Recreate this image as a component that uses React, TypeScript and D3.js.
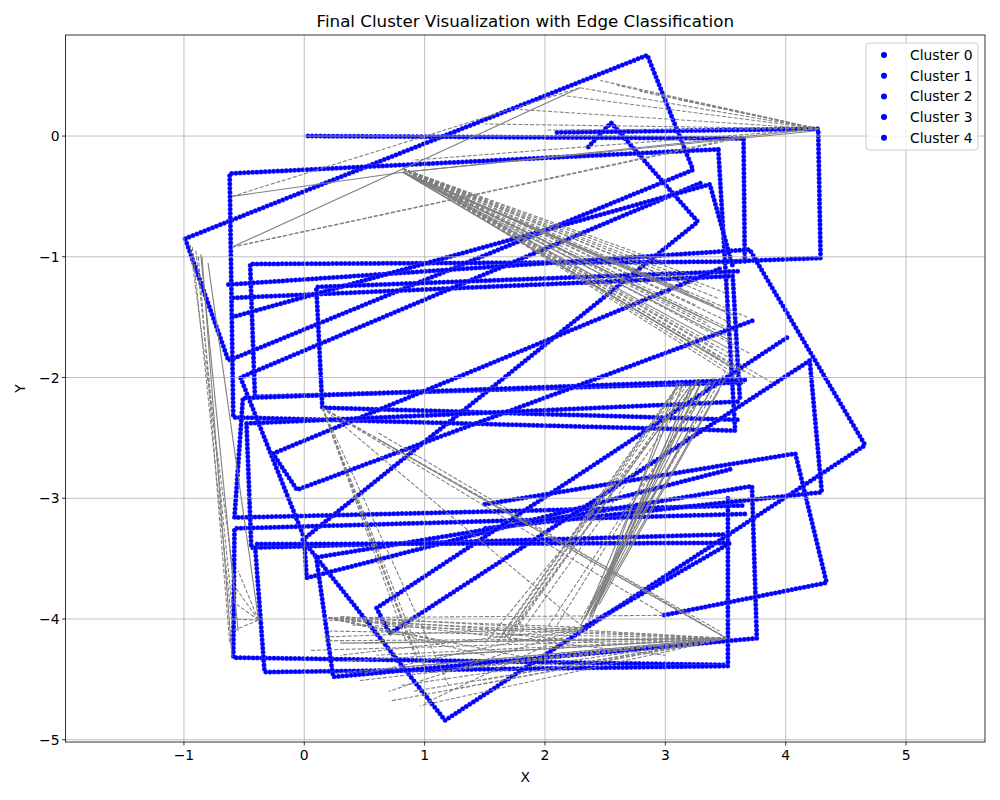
import React, { FC, useMemo } from "react";
import * as d3 from "d3";

const width = 1000;
const height = 800;
const marginLeft = 65.5;
const marginRight = 15;
const marginTop = 35;
const marginBottom = 58;

const xDomain = [-1.984, 5.656];
const yDomain = [-5.019, 0.837];
const xTicks = [-1, 0, 1, 2, 3, 4, 5];
const yTicks = [0, -1, -2, -3, -4, -5];
const clusterNames = ["Cluster 0", "Cluster 1", "Cluster 2", "Cluster 3", "Cluster 4"];

// blue point chains, one list per traced outline
const cluster0 = [
    [[-0.99, -0.85], [2.85, 0.67], [3.23, -0.28], [-0.63, -1.86], [-0.99, -0.85]],
    [[2.36, -0.09], [2.55, 0.11], [3.27, -0.71], [-0.02, -3.35]],
    [[0.03, 0.0], [3.65, -0.02], [3.66, -1.04]],
    [[2.1, 0.03], [4.27, 0.06], [4.29, -1.01], [3.5, -1.04]],
];
const cluster1 = [
    [[3.44, -0.11], [-0.62, -0.31], [-0.59, -2.33], [3.58, -2.44], [3.44, -0.11]],
    [[3.62, -1.04], [-0.45, -1.06], [-0.41, -2.16], [3.66, -2.04]],
    [[-0.63, -1.23], [3.7, -0.94], [4.66, -2.56], [1.17, -4.84], [-0.01, -3.35]],
    [[-0.59, -1.34], [3.56, -1.16], [3.62, -2.19]],
];
const cluster2 = [
    [[3.29, -0.39], [-0.53, -2.0], [0.0, -3.33]],
    [[-0.6, -1.5], [3.37, -0.4], [3.56, -1.08]],
    [[3.66, -2.02], [-0.51, -2.17], [-0.58, -3.16], [3.66, -3.06]],
    [[3.6, -1.12], [0.1, -1.25], [0.15, -2.25], [3.6, -2.35]],
    [[3.45, -1.1], [-0.26, -2.63], [-0.06, -2.93], [3.75, -1.52]],
];
const cluster3 = [
    [[3.6, -2.2], [-0.48, -2.38], [-0.44, -3.41], [3.5, -3.3]],
    [[3.66, -3.13], [-0.58, -3.25], [-0.59, -4.32], [3.5, -4.38]],
    [[3.52, -3.0], [3.52, -4.39], [-0.33, -4.44], [-0.41, -3.38]],
    [[0.0, -3.35], [0.02, -3.66], [3.54, -2.76]],
];
const cluster4 = [
    [[4.2, -1.86], [4.3, -2.95], [1.5, -3.25]],
    [[0.1, -3.49], [0.24, -4.48], [3.76, -4.16], [3.72, -2.9], [0.1, -3.49]],
    [[4.01, -1.67], [0.6, -3.91], [0.71, -4.12], [4.2, -1.86]],
    [[1.5, -3.05], [4.08, -2.63], [4.34, -3.7], [2.98, -3.97]],
    [[2.32, -4.07], [3.54, -3.37], [-0.41, -3.38]],
];
const clusters = [cluster0, cluster1, cluster2, cluster3, cluster4];

// edges fanning out of one shared point
const fans = [
    {
        hub: [0.82, -0.27], dashed: true, ends: [
            [3.55, -1.55], [3.6, -1.7], [3.62, -1.85], [3.5, -1.45], [3.3, -1.25], [3.65, -1.95],
            [3.45, -1.35], [3.58, -1.62], [3.2, -1.15], [3.4, -1.75], [3.66, -2.05], [3.55, -1.92],
            [3.0, -1.05], [3.63, -2.0], [3.75, -2.0], [3.9, -2.05], [3.7, -1.8], [3.5, -1.3],
            [3.35, -1.55], [3.1, -1.2], [3.68, -1.5], [3.25, -1.4],
        ],
    },
    {
        hub: [0.82, -0.3], dashed: false, ends: [
            [3.5, -1.6], [3.6, -1.8], [3.4, -1.4], [3.62, -1.95], [3.3, -1.5], [3.55, -1.7],
            [3.2, -1.3], [4.27, 0.06], [4.22, 0.04], [-0.6, -0.5], [3.45, -1.85], [3.6, -1.5],
        ],
    },
    {
        hub: [4.27, 0.06], dashed: true, ends: [
            [2.29, 0.4], [2.12, 0.34], [2.46, 0.46], [2.79, 0.37], [1.79, 0.22], [3.12, 0.3],
            [2.6, 0.42], [1.5, 0.1], [2.0, 0.05], [0.9, -0.2],
        ],
    },
    {
        hub: [-0.38, -4.01], dashed: true, ends: [
            [-0.6, -3.7], [-0.6, -3.85], [-0.6, -4.0], [-0.6, -4.1], [-0.55, -3.6],
        ],
    },
    {
        hub: [0.15, -2.25], dashed: true, ends: [
            [0.9, -4.25], [0.95, -4.35], [1.0, -4.4], [0.85, -4.2], [0.92, -4.3], [3.51, -4.16],
            [3.0, -3.97], [3.45, -4.1], [2.32, -4.07], [1.2, -4.55],
        ],
    },
    {
        hub: [3.51, -4.16], dashed: true, ends: [
            [0.21, -4.01], [0.17, -4.18], [0.3, -4.35], [0.46, -4.51], [0.71, -4.68], [0.96, -4.72],
            [1.21, -4.59], [1.46, -4.51], [0.21, -4.1], [0.05, -4.26], [0.6, -4.3], [0.4, -4.05],
            [1.0, -4.45], [1.7, -4.35], [0.3, -3.98], [0.63, -2.52], [0.6, -2.45], [0.9, -4.6],
            [0.25, -4.45], [1.3, -4.4], [0.5, -4.2], [0.8, -4.55],
        ],
    },
    {
        hub: [3.51, -4.16], dashed: false, ends: [[0.3, -4.2], [0.8, -4.4], [1.1, -4.3]],
    },
    {
        hub: [0.2, -3.99], dashed: true, ends: [
            [2.32, -4.07], [2.98, -3.97], [1.5, -4.3], [2.0, -4.35], [1.8, -4.1], [3.0, -4.3],
            [2.5, -4.2], [1.2, -4.2],
        ],
    },
    {
        hub: [2.32, -4.07], dashed: true, ends: [[0.3, -4.3], [0.5, -4.45], [0.15, -4.15], [0.7, -4.6], [1.0, -4.7]],
    },
];

// single edges [x1, y1, x2, y2]
const dashedEdges = [
    [-0.6, -0.5, 2.29, 0.4], [-0.6, -0.92, 3.65, 0.0], [-0.6, -0.92, 3.6, -0.02],
    [-0.93, -0.92, -0.6, -4.05], [-0.9, -0.95, -0.6, -3.9], [-0.88, -1.0, -0.62, -4.2],
    [-0.95, -0.9, -0.58, -3.7],
    [1.67, -4.15, 3.15, -2.05], [1.7, -4.17, 3.18, -2.06], [1.64, -4.13, 3.12, -2.04],
    [1.72, -4.12, 3.22, -2.05], [1.6, -4.2, 3.1, -2.08], [1.75, -4.18, 3.25, -2.07],
    [1.66, -4.16, 3.14, -2.03], [1.69, -4.14, 3.2, -2.08],
    [2.0, -4.1, 3.4, -2.0], [2.3, -4.0, 3.5, -1.95], [1.5, -4.2, 3.3, -2.0], [2.1, -4.05, 3.35, -2.05],
];
const solidEdges = [
    [-0.6, -0.92, 2.29, 0.4],
    [-0.85, -1.0, -0.6, -4.32], [-0.8, -1.05, -0.38, -4.01], [-0.86, -0.98, -0.55, -4.1],
    [2.35, -3.95, 3.15, -2.05], [2.37, -3.97, 3.22, -2.06], [2.4, -3.93, 3.3, -2.04],
    [2.33, -4.0, 3.36, -2.03], [2.38, -3.96, 3.42, -2.02], [2.42, -3.9, 3.5, -2.0],
    [2.36, -4.02, 3.2, -2.1], [2.3, -4.05, 3.28, -2.07], [2.45, -3.88, 3.45, -2.1],
    [2.39, -3.99, 3.1, -2.04], [2.34, -3.98, 3.38, -2.1], [2.41, -3.94, 3.26, -2.02],
];

const fmt = (v: number) => (v < 0 ? `\u2212${Math.abs(v)}` : `${v}`);
const font = "DejaVu Sans, sans-serif";

const App: FC = () => {
    const x = useMemo(() => d3.scaleLinear(xDomain, [marginLeft, width - marginRight]), []);
    const y = useMemo(() => d3.scaleLinear(yDomain, [height - marginBottom, marginTop]), []);
    const line = useMemo(
        () => d3.line<number[]>().x((d) => x(d[0])).y((d) => y(d[1])),
        [x, y]
    );

    const edges = useMemo(() => {
        const out: { e: number[]; dashed: boolean }[] = [];
        fans.forEach((f) => f.ends.forEach((e) => out.push({ e: [f.hub[0], f.hub[1], e[0], e[1]], dashed: f.dashed })));
        dashedEdges.forEach((e) => out.push({ e, dashed: true }));
        solidEdges.forEach((e) => out.push({ e, dashed: false }));
        return out;
    }, []);

    const x0 = marginLeft;
    const x1 = width - marginRight;
    const y0 = marginTop;
    const y1 = height - marginBottom;

    return (
        <svg width={width} height={height} style={{ position: "absolute", top: 0, left: 0, background: "#fff" }}>
            <defs>
                <clipPath id="plot">
                    <rect x={x0} y={y0} width={x1 - x0} height={y1 - y0} />
                </clipPath>
            </defs>
            <rect width={width} height={height} fill="#fff" />
            <g clipPath="url(#plot)">
                {clusters.map((c, ci) =>
                    c.map((p, pi) => (
                        <g key={`${ci}-${pi}`}>
                            <path d={line(p) || ""} fill="none" stroke="#5050ff" strokeWidth={5}
                                strokeLinecap="round" strokeDasharray="0 4.2" />
                            <path d={line(p) || ""} fill="none" stroke="#0000ff" strokeWidth={4.2}
                                strokeLinecap="round" strokeDasharray="0 4.2" />
                        </g>
                    ))
                )}
            </g>
            <g stroke="#b0b0b0" strokeWidth={0.8}>
                {xTicks.map((t) => (
                    <line key={`gx${t}`} x1={x(t)} x2={x(t)} y1={y0} y2={y1} />
                ))}
                {yTicks.map((t) => (
                    <line key={`gy${t}`} x1={x0} x2={x1} y1={y(t)} y2={y(t)} />
                ))}
            </g>
            <g clipPath="url(#plot)" fill="none" stroke="#808080" strokeWidth={1.1}>
                {edges.map((d, i) => (
                    <line key={i} x1={x(d.e[0])} y1={y(d.e[1])} x2={x(d.e[2])} y2={y(d.e[3])}
                        strokeDasharray={d.dashed ? "4 1.8" : undefined} />
                ))}
            </g>
            <rect x={x0} y={y0} width={x1 - x0} height={y1 - y0} fill="none" stroke="#000" strokeWidth={0.8} />
            <g fontFamily={font} fontSize={13.9} fill="#000">
                {xTicks.map((t) => (
                    <g key={`tx${t}`}>
                        <line x1={x(t)} x2={x(t)} y1={y1} y2={y1 + 3.5} stroke="#000" strokeWidth={0.8} />
                        <text x={x(t)} y={y1 + 18} textAnchor="middle">{fmt(t)}</text>
                    </g>
                ))}
                {yTicks.map((t) => (
                    <g key={`ty${t}`}>
                        <line x1={x0 - 3.5} x2={x0} y1={y(t)} y2={y(t)} stroke="#000" strokeWidth={0.8} />
                        <text x={x0 - 6} y={y(t) + 5} textAnchor="end">{fmt(t)}</text>
                    </g>
                ))}
                <text x={(x0 + x1) / 2} y={782} textAnchor="middle">X</text>
                <text transform={`translate(25,${(y0 + y1) / 2}) rotate(-90)`} textAnchor="middle">Y</text>
                <text x={(x0 + x1) / 2} y={27} textAnchor="middle" fontSize={16.7}>
                    Final Cluster Visualization with Edge Classification
                </text>
            </g>
            <g fontFamily={font} fontSize={13.9}>
                <rect x={866} y={43} width={112} height={107} rx={3} fill="#fff" fillOpacity={0.8}
                    stroke="#cccccc" strokeWidth={1} />
                {clusterNames.map((n, i) => (
                    <g key={n} transform={`translate(0,${55 + i * 20.7})`}>
                        <circle cx={884} cy={0} r={3} fill="#0000ff" />
                        <text x={910} y={5} fill="#000">{n}</text>
                    </g>
                ))}
            </g>
        </svg>
    );
};

export default App;
